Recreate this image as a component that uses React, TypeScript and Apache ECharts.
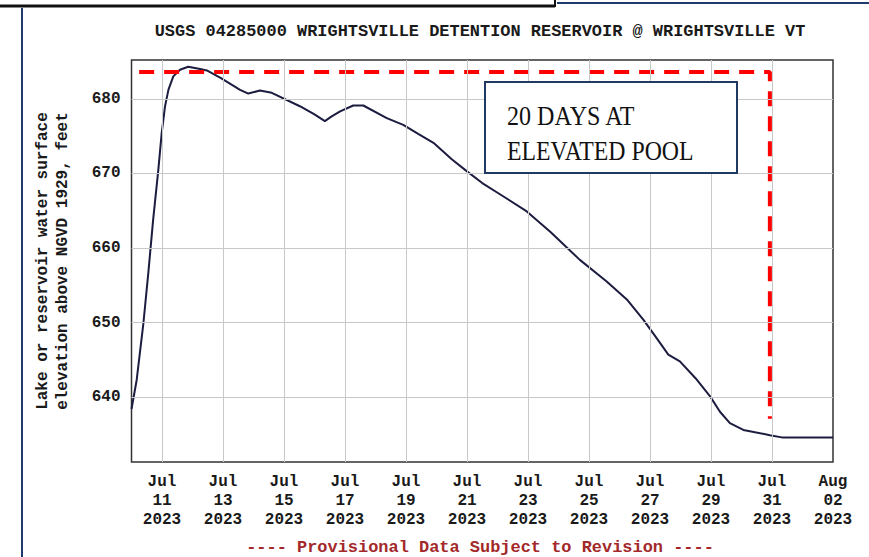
import React, { useEffect, useRef } from "react";
import * as echarts from "echarts";

// Days since Jul 10 2023 00:00
const dayValues = [
  0.0, 0.17, 0.39, 0.55, 0.71, 0.88, 0.99, 1.1, 1.21, 1.37, 1.59, 1.86, 2.25, 2.47, 2.92, 3.56,
  3.83, 4.21, 4.6, 5.52, 6.0, 6.34, 6.55, 6.84, 7.27, 7.6, 8.37, 8.91, 9.4, 9.9, 10.5, 10.99,
  11.5, 12.08, 12.96, 13.72, 14.7, 15.58, 16.24, 16.78, 17.2, 17.6, 17.98, 18.5, 18.97, 19.3,
  19.62, 20.06, 20.93, 21.32, 23.0,
];
// Elevation, feet above NGVD 1929
const elevValues = [
  638.4, 642.3, 649.9, 656.6, 663.8, 670.5, 675.4, 679.0, 681.2, 683.0, 683.9, 684.3, 684.0,
  683.8, 682.8, 681.2, 680.7, 681.1, 680.8, 679.0, 677.9, 677.0, 677.6, 678.3, 679.1, 679.1,
  677.4, 676.5, 675.3, 674.1, 671.9, 670.3, 668.7, 667.2, 664.9, 662.2, 658.4, 655.5, 653.1,
  650.4, 648.0, 645.7, 644.8, 642.5, 640.1, 638.0, 636.5, 635.6, 634.9, 634.6, 634.6,
];

// Elevated pool annotation (red dashed)
const poolDays = [0.25, 20.93, 20.93];
const poolElev = [683.6, 683.6, 637.1];

const xTickDays = [1, 3, 5, 7, 9, 11, 13, 15, 17, 19, 21, 23];
const xTickLabels = [
  "Jul\n11\n2023", "Jul\n13\n2023", "Jul\n15\n2023", "Jul\n17\n2023", "Jul\n19\n2023",
  "Jul\n21\n2023", "Jul\n23\n2023", "Jul\n25\n2023", "Jul\n27\n2023", "Jul\n29\n2023",
  "Jul\n31\n2023", "Aug\n02\n2023",
];
const yTicks = [640, 650, 660, 670, 680];

const X_MIN = 0;
const X_MAX = 23;
const Y_MIN = 631.3;
const Y_MAX = 685.2;

const TITLE = "USGS 04285000 WRIGHTSVILLE DETENTION RESERVOIR @ WRIGHTSVILLE VT";
const FOOTER = "---- Provisional Data Subject to Revision ----";
const YNAME1 = "Lake or reservoir water surface";
const YNAME2 = "elevation above NGVD 1929, feet";
const NOTE1 = "20 DAYS AT";
const NOTE2 = "ELEVATED POOL";

const MONO = "'Liberation Mono', 'DejaVu Sans Mono', monospace";
const SERIF = "'Liberation Serif', 'Times New Roman', serif";

export default function App() {
  const ref = useRef<HTMLDivElement>(null);

  useEffect(() => {
    if (!ref.current) return;
    const chart = echarts.init(ref.current, undefined, { renderer: "svg" });
    const series = dayValues.map((d, i) => [d, elevValues[i]]);
    const pool = poolDays.map((d, i) => [d, poolElev[i]]);

    chart.setOption({
      animation: false,
      backgroundColor: "#ffffff",
      grid: {
        left: 131.5,
        top: 60,
        right: 36,
        bottom: 95,
        show: true,
        borderColor: "#333333",
        borderWidth: 1.5,
        backgroundColor: "#ffffff",
        outerBoundsMode: "none",
      },
      xAxis: {
        type: "value",
        min: X_MIN,
        max: X_MAX,
        axisLine: { show: false },
        axisTick: { show: false },
        splitLine: { show: false },
        axisLabel: {
          customValues: xTickDays,
          formatter: (v: number) => {
            const i = xTickDays.indexOf(Math.round(v));
            return i >= 0 ? xTickLabels[i] : "";
          },
          fontFamily: MONO,
          fontWeight: "bold",
          fontSize: 16,
          lineHeight: 19,
          color: "#1a1a1a",
          margin: 10,
        },
      },
      yAxis: {
        type: "value",
        min: Y_MIN,
        max: Y_MAX,
        axisLine: { show: false },
        axisTick: { show: false },
        splitLine: { show: false },
        axisLabel: {
          customValues: yTicks,
          formatter: (v: number) => String(Math.round(v)),
          fontFamily: MONO,
          fontWeight: "bold",
          fontSize: 16,
          color: "#1a1a1a",
          margin: 11,
        },
      },
      series: [
        {
          type: "line",
          data: [],
          z: 1,
          silent: true,
          markLine: {
            silent: true,
            symbol: ["none", "none"],
            label: { show: false },
            emphasis: { disabled: true },
            lineStyle: { color: "#c8c8c8", width: 1, type: "solid" },
            data: [
              ...yTicks.map((v) => ({ yAxis: v })),
              ...xTickDays.filter((d) => d < X_MAX).map((d) => ({ xAxis: d })),
            ],
          },
        },
        {
          type: "line",
          data: series,
          z: 3,
          showSymbol: false,
          symbol: "none",
          smooth: false,
          lineStyle: { color: "#1c1c40", width: 2 },
        },
        {
          type: "line",
          data: pool,
          z: 4,
          showSymbol: false,
          symbol: "none",
          lineStyle: { color: "#ff0000", width: 4, type: [15, 10] },
        },
      ],
      graphic: [
        // page frame lines
        { type: "line", shape: { x1: 0, y1: 6, x2: 555, y2: 6 }, style: { stroke: "#111111", lineWidth: 3 } },
        { type: "line", shape: { x1: 555, y1: 0, x2: 555, y2: 7 }, style: { stroke: "#111111", lineWidth: 2 } },
        { type: "line", shape: { x1: 557, y1: 3, x2: 869, y2: 3 }, style: { stroke: "#1f3a6e", lineWidth: 2 } },
        { type: "line", shape: { x1: 22, y1: 8, x2: 22, y2: 557 }, style: { stroke: "#1f3a6e", lineWidth: 2 } },
        // title
        {
          type: "text",
          x: 480,
          y: 32,
          scaleX: 1.06,
          style: {
            text: TITLE,
            fontFamily: MONO,
            fontWeight: "bold",
            fontSize: 16,
            fill: "#1a1a1a",
            align: "center",
            verticalAlign: "middle",
          },
        },
        // y-axis name
        {
          type: "text",
          x: 43,
          y: 261,
          rotation: Math.PI / 2,
          style: {
            text: YNAME1,
            fontFamily: MONO,
            fontWeight: "bold",
            fontSize: 16,
            fill: "#1a1a1a",
            align: "center",
            verticalAlign: "middle",
          },
        },
        {
          type: "text",
          x: 63,
          y: 261,
          rotation: Math.PI / 2,
          style: {
            text: YNAME2,
            fontFamily: MONO,
            fontWeight: "bold",
            fontSize: 16,
            fill: "#1a1a1a",
            align: "center",
            verticalAlign: "middle",
          },
        },
        // annotation box
        {
          type: "rect",
          z: 10,
          shape: { x: 485, y: 82, width: 252, height: 91 },
          style: { fill: "#ffffff", stroke: "#1f3864", lineWidth: 2 },
        },
        {
          type: "text",
          z: 11,
          x: 507,
          y: 115.5,
          scaleX: 0.86,
          style: {
            text: NOTE1,
            fontFamily: SERIF,
            fontSize: 28,
            fill: "#111111",
            align: "left",
            verticalAlign: "middle",
          },
        },
        {
          type: "text",
          z: 11,
          x: 507,
          y: 151.3,
          scaleX: 0.85,
          style: {
            text: NOTE2,
            fontFamily: SERIF,
            fontSize: 28,
            fill: "#111111",
            align: "left",
            verticalAlign: "middle",
          },
        },
        // footer
        {
          type: "text",
          x: 480,
          y: 548,
          scaleX: 1.06,
          style: {
            text: FOOTER,
            fontFamily: MONO,
            fontWeight: "bold",
            fontSize: 16,
            fill: "#a3282a",
            align: "center",
            verticalAlign: "middle",
          },
        },
      ],
    });

    return () => {
      chart.dispose();
    };
  }, []);

  return (
    <div
      ref={ref}
      style={{ position: "absolute", left: 0, top: 0, width: 869, height: 557 }}
    />
  );
}
